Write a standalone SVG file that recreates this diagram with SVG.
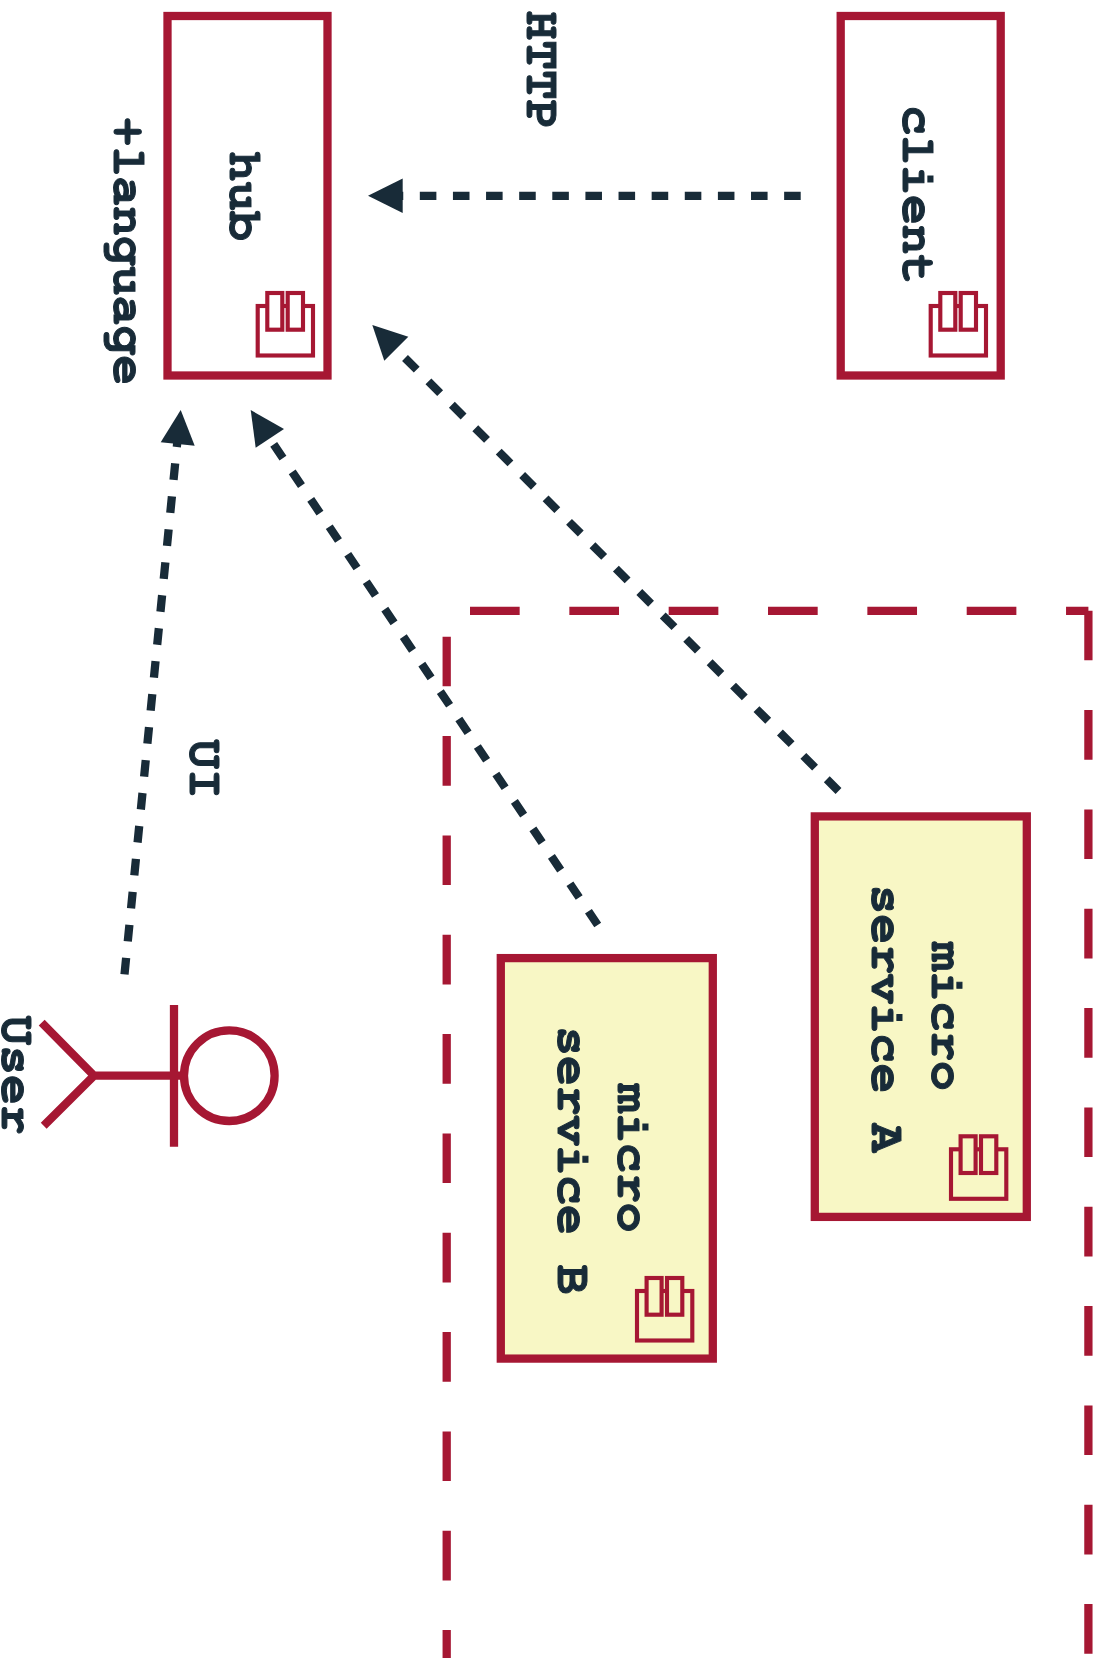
<svg xmlns="http://www.w3.org/2000/svg" width="1099" height="1658" viewBox="0 0 1099 1658">
<defs>
<style>
.n{stroke:#a61733;stroke-width:8.28}
.w{fill:#fff}.y{fill:#f8f7c5}
.i{stroke:#a61733;stroke-width:4.14}
.t{font-family:"FreeMono","Liberation Mono","Courier New",monospace;font-weight:700;font-size:49.7px;fill:#182b38;stroke:#182b38;stroke-width:1;text-anchor:middle}
.c{fill:none;stroke:#182b38;stroke-width:8.28;stroke-dasharray:16.56 16.56}
.h{fill:#182b38}
.b{fill:none;stroke:#a61733;stroke-width:8.28;stroke-dasharray:49.67 49.67}
</style>
<g id="ic"><rect x="0" y="15" width="55.3" height="49.5" fill="none" class="i"/><rect x="9.6" y="2" width="15" height="36.7" class="i" fill="inherit"/><rect x="30" y="2" width="15.3" height="36.7" class="i" fill="inherit"/></g>
</defs>
<g id="boundary">
<path class="b" d="M470 610.8H1088.4"/>
<path class="b" d="M1088.4 610.7V1658"/>
<path class="b" d="M446.7 636.7V1658"/>
</g>
<g id="hub"><rect class="n w" x="167.5" y="16" width="160" height="359.5"/><use href="#ic" x="257.7" y="291" class="w"/><text class="t" transform="translate(230 196.3) rotate(90)">hub</text></g>
<g id="client"><rect class="n w" x="840.7" y="16" width="160" height="359.5"/><use href="#ic" x="930.7" y="291" class="w"/><text class="t" transform="translate(903 195) rotate(90)">client</text></g>
<g id="microA"><rect class="n y" x="814.8" y="816.4" width="212" height="400.5"/><use href="#ic" x="951" y="1134.3" class="y"/><text class="t" transform="translate(932.2 1016.3) rotate(90)">micro</text><text class="t" transform="translate(872.2 1018.7) rotate(90)">service A</text></g>
<g id="microB"><rect class="n y" x="500.8" y="958.1" width="212" height="400.5"/><use href="#ic" x="637" y="1276" class="y"/><text class="t" transform="translate(618.2 1158) rotate(90)">micro</text><text class="t" transform="translate(558.2 1160.4) rotate(90)">service B</text></g>
<g id="actor"><circle cx="229.3" cy="1075.7" r="45.3" fill="none" class="n"/><path class="n" fill="none" d="M174 1005V1146.7M94 1075.7H181M41.7 1022.7L94 1075.7L43.7 1125.7"/><text class="t" transform="translate(1.5 1075) rotate(90)">User</text></g>
<g id="labels"><text class="t" transform="translate(114 251) rotate(90)">+language</text><text class="t" transform="translate(526.5 70) rotate(90)">HTTP</text><text class="t" transform="translate(189.5 769) rotate(90)">UI</text></g>
<g id="connectors">
<path class="c" d="M800.7 195.8H390"/><polygon class="h" points="368,195.8 402.7,178.6 402.7,213"/>
<path class="c" d="M838.5 791L392 345"/><polygon class="h" points="372.3,325 408.3,336.7 384.3,360.7"/>
<path class="c" d="M597.7 925L266 433"/><polygon class="h" points="250.7,410 284,429 255.7,447.7"/>
<path class="c" d="M124.5 974.3L178.5 430"/><polygon class="h" points="180.7,410 160.7,442.3 194.7,445.7"/>
</g>
</svg>
